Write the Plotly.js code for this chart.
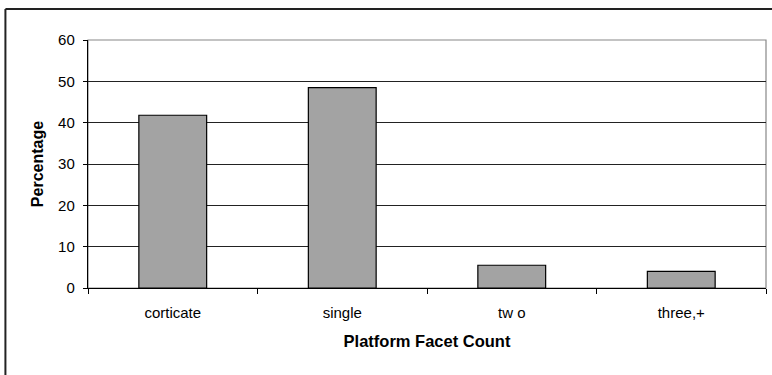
<!DOCTYPE html>
<html>
<head>
<meta charset="utf-8">
<script src="https://cdn.plot.ly/plotly-3.0.1.min.js"></script>
<style>
  html, body { margin: 0; padding: 0; background: #fff; }
  #chart { width: 772px; height: 375px; }
</style>
</head>
<body>
<div id="chart"></div>
<script>
const categories = ["corticate", "single", "tw o", "three,+"];
const percentages = [41.8, 48.5, 5.5, 4.0];
const yTicks = [0, 10, 20, 30, 40, 50, 60];

const font = "Liberation Sans, Arial, sans-serif";

const trace = {
  type: "bar",
  x: categories,
  y: percentages,
  marker: { color: "#a3a3a3", line: { color: "#000", width: 1.2 } },
  hoverinfo: "x+y"
};

const layout = {
  width: 772,
  height: 375,
  margin: { l: 88, r: 6, t: 40, b: 87 },
  paper_bgcolor: "#fff",
  plot_bgcolor: "#fff",
  showlegend: false,
  bargap: 0.6,
  font: { family: font, color: "#000", size: 15 },
  xaxis: {
    type: "category",
    tickson: "boundaries",
    ticks: "outside",
    ticklen: 5,
    tickcolor: "#000",
    showline: true,
    linecolor: "#000",
    linewidth: 1.2,
    showgrid: false,
    zeroline: false,
    tickfont: { size: 15, family: font },
    ticklabelstandoff: 11,
    title: { text: "Platform Facet Count", font: { size: 16.5, family: font, weight: "bold" }, standoff: 15 },
    automargin: false,
    fixedrange: true
  },
  yaxis: {
    range: [0, 60],
    tickvals: yTicks,
    ticktext: yTicks.map(String),
    ticks: "outside",
    ticklen: 4,
    tickcolor: "#000",
    showline: true,
    linecolor: "#000",
    linewidth: 1.2,
    showgrid: true,
    gridcolor: "#222",
    gridwidth: 1,
    zeroline: false,
    tickfont: { size: 15, family: font },
    ticklabelstandoff: 5,
    title: { text: "Percentage", font: { size: 16, family: font, weight: "bold" }, standoff: 10 },
    automargin: false,
    fixedrange: true
  },
  shapes: [
    { type: "rect", xref: "paper", yref: "paper", x0: 0, x1: 1, y0: 0, y1: 1,
      line: { color: "#888", width: 1.2 }, layer: "below" },
    { type: "line", xref: "paper", yref: "paper", x0: -0.1218, x1: -0.1218, y0: 1.1252, y1: -0.4,
      line: { color: "#222", width: 2 } },
    { type: "line", xref: "paper", yref: "paper", x0: -0.1218, x1: 1.02, y0: 1.1252, y1: 1.1252,
      line: { color: "#222", width: 2 } }
  ]
};

Plotly.newPlot("chart", [trace], layout, { displayModeBar: false, staticPlot: true });
</script>
</body>
</html>
